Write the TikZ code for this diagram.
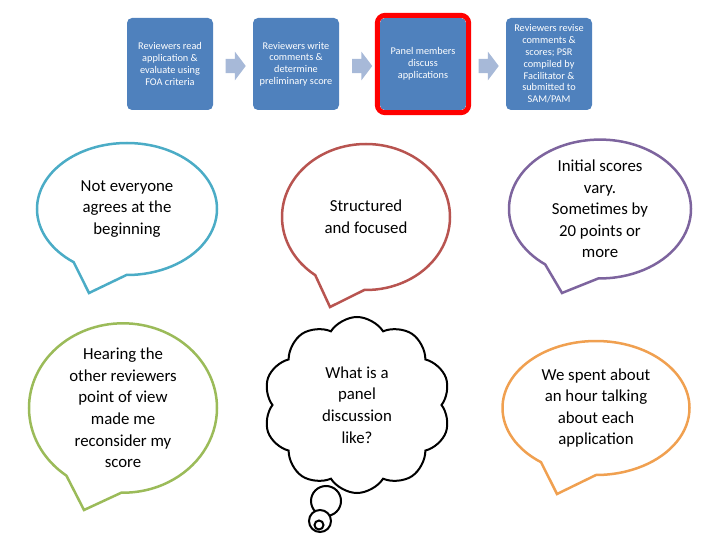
\documentclass[tikz,border=0pt]{standalone}
\usepackage{fontspec}
\setmainfont{Carlito}
\usepackage{tikz}
\usetikzlibrary{shapes.arrows,shapes.callouts,shapes.symbols,calc}

\definecolor{boxblue}{HTML}{4F81BD}
\definecolor{arrowgray}{HTML}{A7B9D8}
\definecolor{bubteal}{HTML}{4BACC6}
\definecolor{bubred}{HTML}{B85450}
\definecolor{bubpurple}{HTML}{7D649E}
\definecolor{bubgreen}{HTML}{9BBB59}
\definecolor{buborange}{HTML}{F0A050}

\tikzset{
	stagebox/.style={fill=boxblue, rounded corners=5pt, text=white, align=center,
		minimum width=86, minimum height=92, inner sep=1pt,
		font=\fontsize{10.3}{11.8}\selectfont},
	flowarr/.style={single arrow, fill=arrowgray, minimum height=20, minimum width=24,
		single arrow tip angle=106, inner xsep=0, inner ysep=7pt},
	bubble/.style={ellipse callout, draw=#1, line width=2.5pt, fill=white, align=center,
		inner sep=0, callout pointer arc=36, font=\fontsize{16.8}{21.6}\selectfont},
	bubcircle/.style={circle, draw, line width=2pt, fill=white, inner sep=0}
}

\begin{document}
\begin{tikzpicture}[x=1pt, y=-1pt]
	\useasboundingbox (0,0) rectangle (720,540);
	% process steps
	\node[stagebox] (p1) at (170,64) {Reviewers read\\application \&\\evaluate using\\FOA criteria};
	\node[stagebox] (p2) at (296,64) {Reviewers write\\comments \&\\determine\\preliminary score};
	\node[stagebox] (p3) at (423,64) {Panel members\\discuss\\applications};
	\node[stagebox] (p4) at (549,64) {Reviewers revise\\comments \&\\scores; PSR\\compiled by\\Facilitator \&\\submitted to\\SAM/PAM};
	\draw[red, line width=5pt, rounded corners=8pt] ([xshift=-2.5pt,yshift=2.5pt]p3.north west) rectangle ([xshift=2.5pt,yshift=-2.5pt]p3.south east);
	\node[flowarr] (a1) at ($(p1.east)!.5!(p2.west)+(0,2)$) {};
	\node[flowarr] (a2) at ($(p2.east)!.5!(p3.west)+(0,2)$) {};
	\node[flowarr] (a3) at ($(p3.east)!.5!(p4.west)+(0,2)$) {};

	% speech bubbles
	\coordinate (t1) at (89,293);
	\coordinate (t2) at (330,307);
	\coordinate (t3) at (562,293);
	\coordinate (t4) at (84,510);
	\coordinate (t5) at (557,494);
	\node[bubble=bubteal, minimum width=180, minimum height=132, callout absolute pointer={(t1)}] (b1) at (127,209) {Not everyone\\agrees at the\\beginning};
	\node[bubble=bubred, minimum width=168, minimum height=146, callout absolute pointer={(t2)}] (b2) at (366,217) {Structured\\and focused};
	\node[bubble=bubpurple, minimum width=182, minimum height=132, callout absolute pointer={(t3)}] (b3) at (600,209) {Initial scores\\vary.\\Sometimes by\\20 points or\\more};
	\node[bubble=bubgreen, minimum width=188, minimum height=158, callout absolute pointer={(t4)}] (b4) at (123,408) {Hearing the\\other reviewers\\point of view\\made me\\reconsider my\\score};
	\node[bubble=buborange, minimum width=187, minimum height=134, callout absolute pointer={(t5)}] (b5) at (596,408) {We spent about\\an hour talking\\about each\\application};

	% thought cloud
	\node[cloud, draw, line width=2pt, fill=white, cloud puffs=10, cloud puff arc=115, cloud ignores aspect,
		minimum width=187, minimum height=176, align=center, font=\fontsize{16.8}{21.6}\selectfont] (cl) at (357,405) {What is a\\panel\\discussion\\like?};
	\node[bubcircle, minimum size=30] (c1) at (326,501) {};
	\node[bubcircle, minimum size=22] (c2) at (320,521) {};
	\node[bubcircle, minimum size=9] (c3) at (319,525) {};
\end{tikzpicture}
\end{document}
